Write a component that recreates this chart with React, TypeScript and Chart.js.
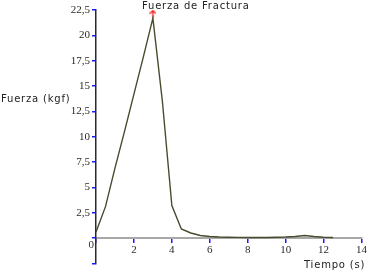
import React, { useEffect, useRef } from "react";
import { Chart, registerables } from "chart.js";

Chart.register(...registerables);

const timeS = [0, 0.5, 1, 1.5, 2, 2.5, 3, 3.5, 4, 4.5, 5, 5.5, 6, 6.5, 7, 7.5, 8, 8.5, 9, 9.5, 10, 10.5, 11, 11.5, 12, 12.5];
const forceKgf = [0.6, 3.1, 6.9, 10.5, 14.2, 17.9, 21.7, 13.5, 3.2, 0.9, 0.5, 0.25, 0.15, 0.1, 0.08, 0.07, 0.06, 0.06, 0.06, 0.08, 0.1, 0.15, 0.25, 0.15, 0.08, 0.05];
const peakMarkerX = [3];
const peakMarkerY = [22.15];
const xTicks = [0, 2, 4, 6, 8, 10, 12, 14];
const yTicks = [-2.5, 0, 2.5, 5, 7.5, 10, 12.5, 15, 17.5, 20, 22.5];

const titleText = "Fuerza de Fractura";
const yTitle = "Fuerza (kgf)";
const xTitle = "Tiempo (s)";

function makeArrow(): HTMLCanvasElement {
  const c = document.createElement("canvas");
  c.width = 7;
  c.height = 8;
  const g = c.getContext("2d")!;
  g.strokeStyle = "#ff1a1a";
  g.lineWidth = 1.3;
  g.beginPath();
  g.moveTo(3.5, 1);
  g.lineTo(3.5, 8);
  g.moveTo(0.5, 4);
  g.lineTo(3.5, 1);
  g.lineTo(6.5, 4);
  g.stroke();
  return c;
}

const textPlugin = {
  id: "textPlugin",
  afterDraw(chart: any) {
    const ctx = chart.ctx as CanvasRenderingContext2D;
    ctx.save();
    ctx.fillStyle = "#222";
    ctx.font = "10px 'DejaVu Sans'";
    (ctx as any).letterSpacing = "0.8px";
    ctx.textBaseline = "alphabetic";
    ctx.textAlign = "left";
    ctx.fillText(titleText, 142, 8.5);
    ctx.fillText(yTitle, 1, 102);
    ctx.fillText(xTitle, 304, 268);
    (ctx as any).letterSpacing = "0px";
    ctx.font = "11px 'Liberation Serif'";
    ctx.fillStyle = "#333";
    ctx.textAlign = "right";
    ctx.fillText("0", 94, 248);
    ctx.restore();
  },
};

export default function App() {
  const ref = useRef<HTMLCanvasElement | null>(null);
  useEffect(() => {
    if (!ref.current) return;
    const arrow = makeArrow();
    const chart = new Chart(ref.current, {
      type: "line",
      data: {
        datasets: [
          {
            data: timeS.map((t, i) => ({ x: t, y: forceKgf[i] })),
            borderColor: "#4a4a2e",
            borderWidth: 1.4,
            pointRadius: 0,
            tension: 0,
            fill: false,
          },
          {
            data: peakMarkerX.map((t, i) => ({ x: t, y: peakMarkerY[i] })),
            showLine: false,
            pointStyle: arrow as any,
            pointRadius: 4,
          },
        ],
      },
      options: {
        animation: false,
        responsive: false,
        maintainAspectRatio: false,
        layout: { padding: { left: 0, top: 10, right: 6, bottom: 8 } },
        plugins: { legend: { display: false }, title: { display: false }, tooltip: { enabled: false } },
        scales: {
          x: {
            type: "linear",
            position: { y: 0 } as any,
            min: 0,
            max: 14,
            afterBuildTicks: (s: any) => {
              s.ticks = xTicks.map((v) => ({ value: v }));
            },
            grid: { display: true, drawOnChartArea: false, drawTicks: true, tickLength: 4, color: "#1a1aff", lineWidth: 1.5 },
            border: { display: true, color: "#a8a8a8", width: 2 },
            ticks: {
              padding: 1,
              color: "#2a2a2a",
              font: { family: "'Liberation Serif'", size: 11 },
              callback: (v: any) => (v === 0 ? "" : String(v)),
              maxRotation: 0,
            },
          },
          y: {
            type: "linear",
            min: -2.5,
            max: 22.5,
            afterBuildTicks: (s: any) => {
              s.ticks = yTicks.map((v) => ({ value: v }));
            },
            afterFit: (s: any) => {
              s.width = 96;
            },
            grid: { display: true, drawOnChartArea: false, drawTicks: true, tickLength: 4, color: "#1a1aff", lineWidth: 1.5 },
            border: { display: true, color: "#2a2a2a", width: 1.5 },
            ticks: {
              padding: 2,
              color: "#2a2a2a",
              font: { family: "'Liberation Serif'", size: 11 },
              callback: (v: any) => (v === 0 || v === -2.5 ? "" : String(v).replace(".", ",")),
            },
          },
        },
      },
      plugins: [textPlugin],
    });
    return () => chart.destroy();
  }, []);
  return (
    <div style={{ position: "absolute", left: 0, top: 0, width: 368, height: 272, background: "#fff" }}>
      <canvas ref={ref} width={368} height={272} style={{ display: "block" }} />
    </div>
  );
}
